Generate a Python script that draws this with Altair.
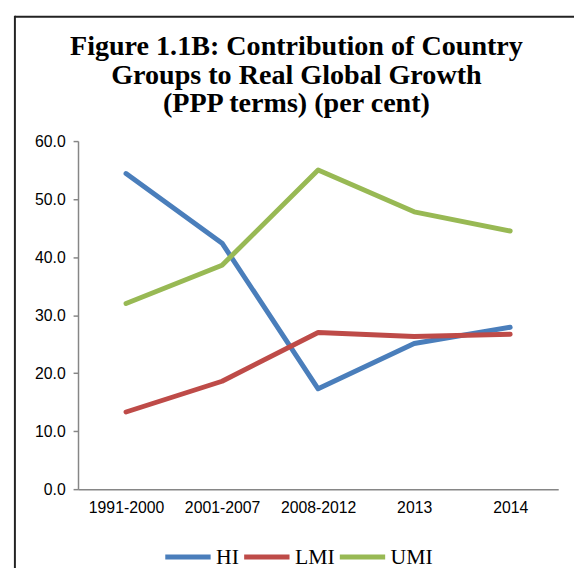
import altair as alt
import pandas as pd

periods = ["1991-2000", "2001-2007", "2008-2012", "2013", "2014"]
hi = [54.4, 42.4, 17.3, 25.1, 27.9]
lmi = [13.3, 18.6, 27.0, 26.3, 26.7]
umi = [32.0, 38.6, 55.0, 47.8, 44.5]
groups = ["HI", "LMI", "UMI"]
colors = ["#4A7EBB", "#BE4B48", "#98B954"]
title_lines = ["Figure 1.1B: Contribution of Country", "Groups to Real Global Growth",
               "(PPP terms) (per cent)"]

rows = []
for g, vals in zip(groups, [hi, lmi, umi]):
    for p, v in zip(periods, vals):
        rows.append({"period": p, "group": g, "value": v})
df = pd.DataFrame(rows)

W, H = 487, 353

lines = alt.Chart(df).mark_line(strokeWidth=5, strokeCap="round", strokeJoin="round").encode(
    x=alt.X("period:N", sort=periods, title=None,
            scale=alt.Scale(type="point", padding=0.5),
            axis=alt.Axis(labelAngle=0, ticks=False, labelPadding=11, labelFont="Liberation Sans",
                          labelFontSize=16, labelColor="#000", domainColor="#868686", domainWidth=1.5,
                          grid=False)),
    y=alt.Y("value:Q", title=None, scale=alt.Scale(domain=[0, 60], nice=False),
            axis=alt.Axis(values=[0, 10, 20, 30, 40, 50, 60], format=".1f", tickSize=5, labelPadding=8,
                          labelFont="Liberation Sans", labelFontSize=16, labelColor="#000",
                          domainColor="#868686", domainWidth=1.5, tickColor="#868686", tickWidth=1.5,
                          grid=False)),
    color=alt.Color("group:N", scale=alt.Scale(domain=groups, range=colors),
                    legend=alt.Legend(title=None, orient="none", legendX=86, legendY=396,
                                      direction="horizontal", symbolType="stroke", symbolSize=2116,
                                      symbolStrokeWidth=5, labelFont="Liberation Serif", labelFontSize=22,
                                      labelColor="#000", labelOffset=3, columnPadding=-6, symbolOffset=0)),
)

one = pd.DataFrame({"k": [0]})
top_line = alt.Chart(one).mark_rule(color="#222", strokeWidth=2).encode(
    x=alt.value(-64), x2=alt.value(510), y=alt.value(-126))
left_line = alt.Chart(one).mark_rule(color="#222", strokeWidth=2).encode(
    x=alt.value(-64), y=alt.value(-127), y2=alt.value(450))
title = alt.Chart(one).mark_text(
    font="Liberation Serif", fontSize=28.5, fontWeight="bold", color="#000",
    align="center", baseline="alphabetic", lineHeight=29).encode(
    x=alt.value(221.5), y=alt.value(-87), text=alt.value(title_lines))

chart = alt.layer(top_line, left_line, title, lines).properties(
    width=W, height=H,
    autosize=alt.AutoSizeParams(type="none"),
    padding={"left": 71, "top": 131, "right": 16, "bottom": 76},
).configure_view(stroke=None)

chart.save("out.html", embed_options={"renderer": "svg", "actions": False})
